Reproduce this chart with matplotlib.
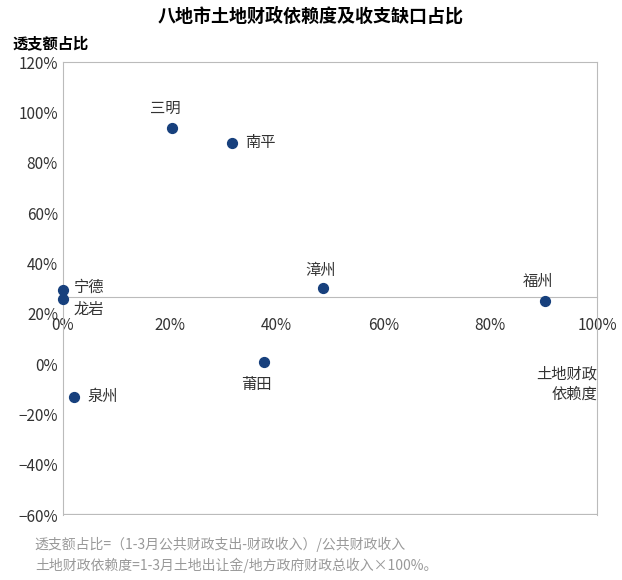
import matplotlib.pyplot as plt
from matplotlib.ticker import PercentFormatter
from matplotlib.transforms import ScaledTranslation

plt.rcParams['font.family'] = ['Noto Sans CJK SC', 'DejaVu Sans']

cities = ['宁德', '龙岩', '泉州', '三明', '南平', '莆田', '漳州', '福州']
land_dep = [0.0, 0.0, 2.0, 20.4, 31.6, 37.6, 48.7, 90.3]
overdraft = [29.4, 25.8, -13.0, 93.7, 88.0, 0.8, 30.2, 25.0]
# label offsets in points
offsets = [(8, 2), (8, -7), (10, 0), (-5, 14), (10, 0), (-5, -16), (-2, 13), (-5, 14)]
aligns = ['left', 'left', 'left', 'center', 'left', 'center', 'center', 'center']

fig = plt.figure(figsize=(6.22, 5.8), dpi=100)
ax = fig.add_axes([0.101, 0.112, 0.859, 0.781])

ax.scatter(land_dep, overdraft, s=50, color='#17407d', zorder=3, clip_on=False)
for c, x, y, off, ha in zip(cities, land_dep, overdraft, offsets, aligns):
    ax.annotate(c, (x, y), xytext=off, textcoords='offset points',
                ha=ha, va='center', fontsize=11, color='#333333')

ax.set_xlim(0, 100)
ax.set_ylim(-60, 120)
ax.set_yticks(range(-60, 121, 20))
ax.set_xticks(range(0, 101, 20))
ax.xaxis.set_major_formatter(PercentFormatter(decimals=0))
ax.yaxis.set_major_formatter(PercentFormatter(decimals=0))
ax.tick_params(length=0, labelsize=11, colors='#333333')
ax.tick_params(axis='x', pad=14)
# nudge the 0% label right so it clears the y tick label
first = ax.get_xticklabels()[0]
first.set_transform(first.get_transform() + ScaledTranslation(13 / 72, 0, fig.dpi_scale_trans))

for s in ['left', 'top', 'right']:
    ax.spines[s].set_color('#bbbbbb')
ax.spines['bottom'].set_position(('data', 26.6))
ax.spines['bottom'].set_color('#bbbbbb')
# outer frame bottom
ax.axhline(-60, color='#bbbbbb', lw=1.6)

ax.text(100, -8, '土地财政\n依赖度', ha='right', va='center', fontsize=11, color='#333333')

fig.text(0.5, 0.972, '八地市土地财政依赖度及收支缺口占比', ha='center', va='center',
         fontsize=13, fontweight='bold')
fig.text(0.02, 0.925, '透支额占比', ha='left', va='center', fontsize=11, fontweight='bold')
fig.text(0.056, 0.062, '透支额占比=（1-3月公共财政支出-财政收入）/公共财政收入',
         fontsize=10, color='#999999', va='center')
fig.text(0.056, 0.025, '土地财政依赖度=1-3月土地出让金/地方政府财政总收入×100%。',
         fontsize=10, color='#999999', va='center')

fig.savefig('out.png', dpi=100)
